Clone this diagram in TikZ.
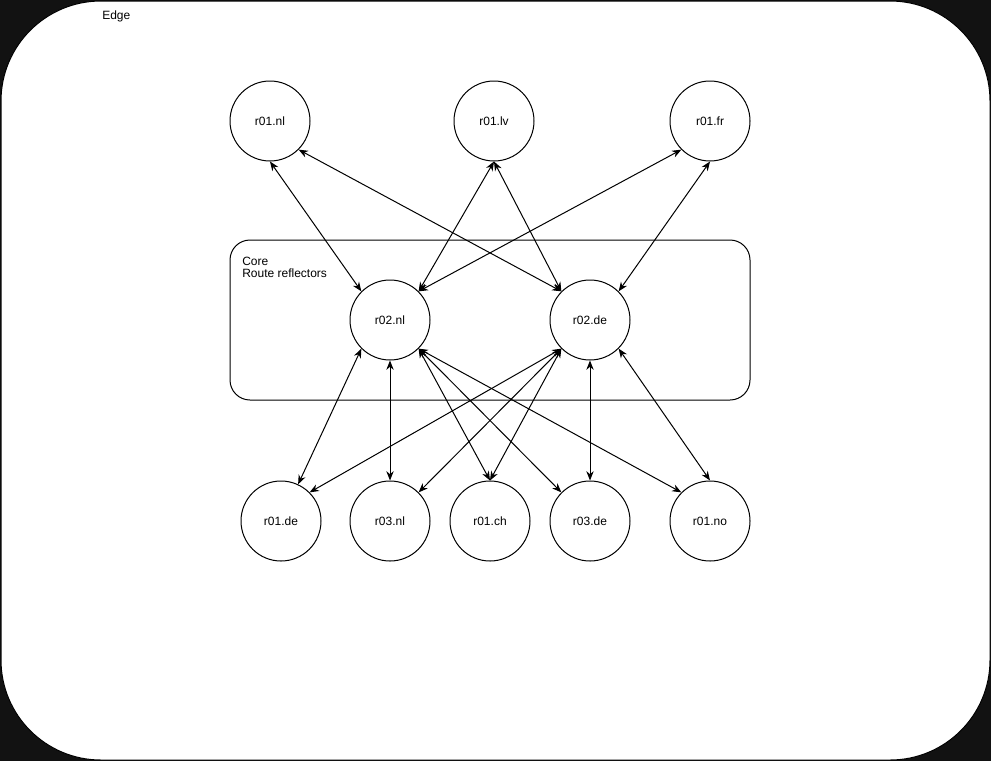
\documentclass[tikz,border=0pt]{standalone}
\usepackage{fontspec}
\setmainfont{Liberation Sans}
\usepackage{tikz}
\usetikzlibrary{arrows.meta}

\begin{document}
\begin{tikzpicture}[
    x=0.75pt, y=-0.75pt,
    font=\fontsize{9}{10.5}\selectfont,
    router/.style={circle, draw, line width=0.75pt, minimum size=60pt,
                   inner sep=0pt, fill=white},
    lbl/.style={inner sep=0pt, anchor=west, align=left},
    arr/.style={{Stealth[length=7pt,width=5.5pt]}-{Stealth[length=7pt,width=5.5pt]},
                line width=0.75pt}
  ]
    % frame
    \fill[black!93] (0,0) rectangle (991,761);
    \useasboundingbox (0,0) rectangle (991,761);
    \draw[fill=white, line width=0.75pt, rounded corners=75pt] (1,1) rectangle (990,760);
    \node[lbl] (edge) at (102,16) {Edge};
    % core
    \draw[line width=0.75pt, rounded corners=15pt] (230,240) rectangle (750,400);
    \node[lbl, anchor=north west] (core) at (242,256.5) {Core\\[-1.5pt]Route reflectors};
    % routers
    \node[router] (r01nl) at (270,121) {r01.nl};
    \node[router] (r01lv) at (494,121) {r01.lv};
    \node[router] (r01fr) at (710,121) {r01.fr};
    \node[router] (r02nl) at (390,320) {r02.nl};
    \node[router] (r02de) at (590,320) {r02.de};
    \node[router] (r01de) at (281,521) {r01.de};
    \node[router] (r03nl) at (390,521) {r03.nl};
    \node[router] (r01ch) at (490,521) {r01.ch};
    \node[router] (r03de) at (590,521) {r03.de};
    \node[router] (r01no) at (710,521) {r01.no};
    % edge to core
    \draw[arr] (r01nl.south) -- (r02nl.north west);
    \draw[arr] (r01nl.south east) -- (r02de.north west);
    \draw[arr] (r01lv.south) -- (r02nl.north east);
    \draw[arr] (r01lv.south) -- (r02de.north west);
    \draw[arr] (r01fr.south west) -- (r02nl.north east);
    \draw[arr] (r01fr.south) -- (r02de.north east);
    % core to edge
    \draw[arr] (r02nl.south west) -- (r01de);
    \draw[arr] (r02nl.south) -- (r03nl.north);
    \draw[arr] (r02nl.south east) -- (r01ch.north);
    \draw[arr] (r02nl.south east) -- (r03de.north west);
    \draw[arr] (r02nl.south east) -- (r01no.north west);
    \draw[arr] (r02de.south west) -- (r01de.north east);
    \draw[arr] (r02de.south west) -- (r03nl.north east);
    \draw[arr] (r02de.south west) -- (r01ch.north);
    \draw[arr] (r02de.south) -- (r03de.north);
    \draw[arr] (r02de.south east) -- (r01no.north);
  \end{tikzpicture}
\end{document}
